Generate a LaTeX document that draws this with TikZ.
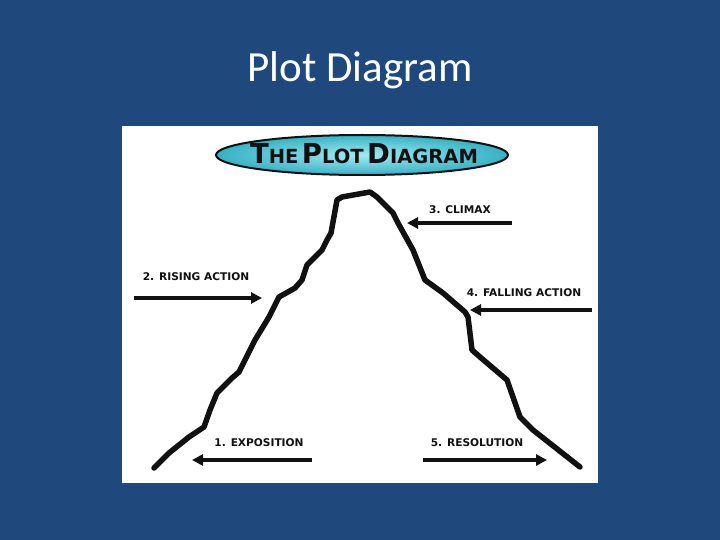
\documentclass[tikz,border=0pt]{standalone}
\usepackage{fontspec}
\setmainfont{Carlito}
\newfontfamily\sketchfont{DejaVu Sans}
\usetikzlibrary{arrows.meta,positioning,shapes.geometric}
\definecolor{slideBlue}{HTML}{1F497D}
\definecolor{capInner}{HTML}{A4EAF1}
\definecolor{capOuter}{HTML}{35B2C4}
\definecolor{inkBlack}{HTML}{111111}

\newcommand{\capword}[2]{{\fontsize{27.5}{28}\selectfont #1}{\fontsize{19.5}{20}\selectfont #2}}

\begin{document}
\begin{tikzpicture}[x=1pt, y=-1pt,
    stage/.style={font=\sketchfont\bfseries\fontsize{10.6}{11}\selectfont, text=inkBlack, inner sep=0pt},
    pointer/.style={-{Triangle[length=11pt, width=11pt]}, line width=4pt, draw=inkBlack},
    ridge/.style={line width=5.5pt, draw=inkBlack, line join=round, line cap=round},
]

% ===== SLIDE =====
\fill[slideBlue] (0,0) rectangle (720,540);
\useasboundingbox (0,0) rectangle (720,540);
\node[font=\fontsize{43}{43}\selectfont, text=white, anchor=base] (title) at (360,82) {Plot Diagram};

% white picture card
\node[fill=white, minimum width=476pt, minimum height=357pt, inner sep=0pt, anchor=north west] (card) at (122,126) {};

% banner ellipse
\node[ellipse, draw=inkBlack, line width=2pt, inner color=capInner, outer color=capOuter,
    minimum width=292pt, minimum height=40pt, inner sep=0pt] (banner) at (362,155) {};
\node[font=\sketchfont\bfseries, text=inkBlack, anchor=base] (bannerText) at (364,164)
    {\capword{T}{HE} \capword{P}{LOT} \capword{D}{IAGRAM}};

% ===== MOUNTAIN =====
\draw[ridge] (154,468) -- (169,453) -- (189,437) -- (204,427) -- (210,410) -- (217,393)
    -- (232,378) -- (239,372) -- (255,340) -- (269,317) -- (279,297) -- (295,288)
    -- (302,280) -- (307,265) -- (322,250) -- (327,240) -- (331,233) -- (337,200)
    -- (342,197) -- (370,192) -- (377,197) -- (393,213) -- (398,223) -- (413,250)
    -- (425,280) -- (443,293) -- (465,312) -- (468,317) -- (472,350) -- (480,357)
    -- (507,380) -- (520,417) -- (533,430) -- (580,467);

% ===== STAGES =====
\foreach \id/\txt/\lx/\ly/\ax/\bx/\ay in {
    expo/{1. EXPOSITION}/259/443/312/192/460,
    rise/{2. RISING ACTION}/196/277/134/262/298,
    climax/{3. CLIMAX}/460/210/512/407/223,
    fall/{4. FALLING ACTION}/524/293/592/470/310,
    reso/{5. RESOLUTION}/477/443/423/547/460}{
    \node[stage] (\id) at (\lx,\ly) {\txt};
    \coordinate (\id-tail) at (\ax,\ay);
    \coordinate (\id-head) at (\bx,\ay);
    \draw[pointer] (\id-tail) -- (\id-head);
}

\end{tikzpicture}
\end{document}
